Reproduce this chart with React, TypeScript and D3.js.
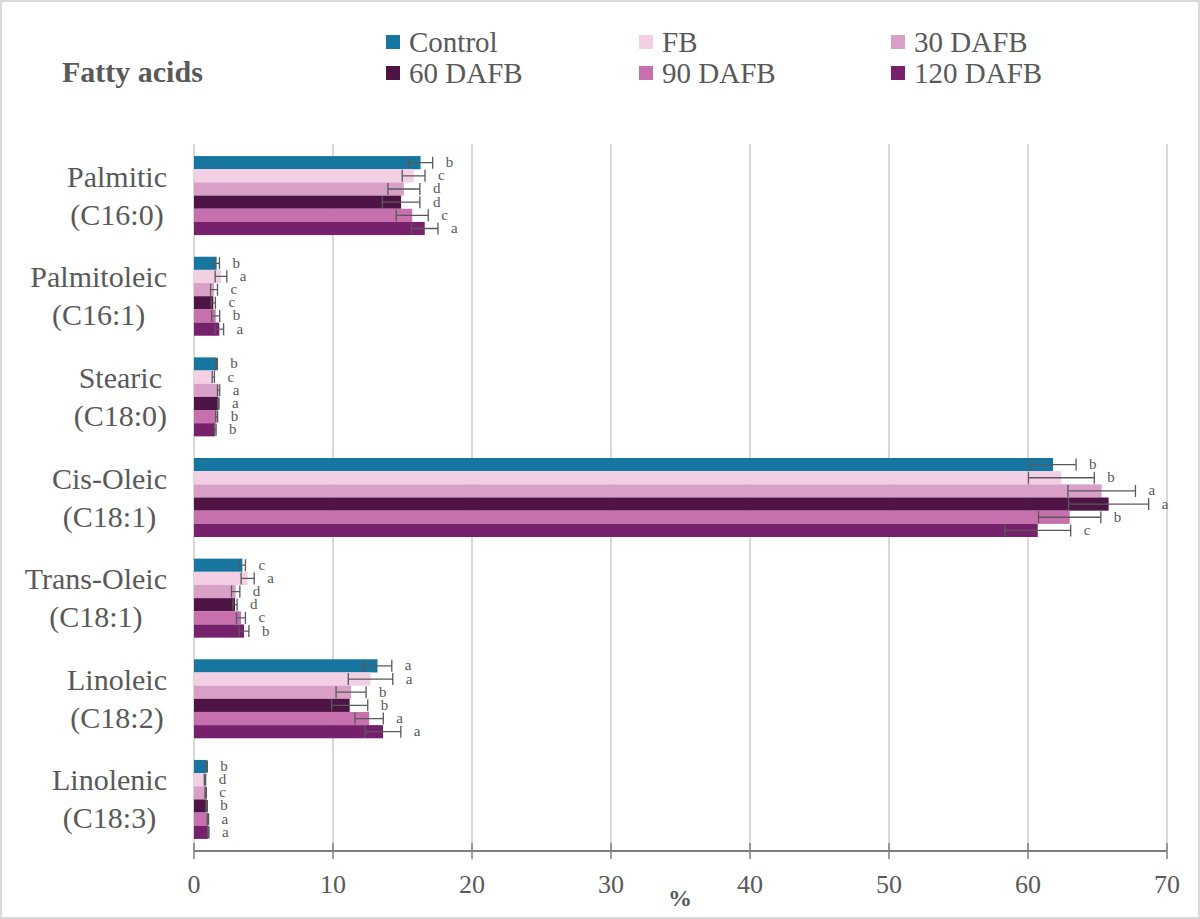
import {useEffect} from "react";
import * as d3 from "d3";

const categories = ["Palmitic", "Palmitoleic", "Stearic", "Cis-Oleic", "Trans-Oleic", "Linoleic", "Linolenic"];
const codes = ["(C16:0)", "(C16:1)", "(C18:0)", "(C18:1)", "(C18:1)", "(C18:2)", "(C18:3)"];
const seriesNames = ["Control", "FB", "30 DAFB", "60 DAFB", "90 DAFB", "120 DAFB"];
const seriesColors = ["#17769f", "#f2cfe3", "#d9a0c7", "#4f1446", "#c670ad", "#77216c"];

const control = [16.3, 1.63, 1.63, 61.8, 3.48, 13.2, 0.91];
const fb = [15.8, 1.94, 1.39, 62.4, 3.86, 12.7, 0.79];
const dafb30 = [15.1, 1.44, 1.77, 65.3, 3.0, 11.3, 0.84];
const dafb60 = [14.9, 1.39, 1.75, 65.8, 2.95, 11.2, 0.91];
const dafb90 = [15.7, 1.56, 1.63, 63.0, 3.38, 12.6, 1.0];
const dafb120 = [16.6, 1.82, 1.53, 60.7, 3.6, 13.6, 1.03];

const errControl = [0.87, 0.2, 0.05, 1.66, 0.22, 1.03, 0.05];
const errFb = [0.82, 0.42, 0.08, 2.37, 0.47, 1.6, 0.05];
const err30 = [1.15, 0.25, 0.08, 2.43, 0.3, 1.08, 0.05];
const err60 = [1.35, 0.15, 0.05, 2.88, 0.15, 1.3, 0.05];
const err90 = [1.15, 0.29, 0.07, 2.24, 0.32, 1.02, 0.05];
const err120 = [0.95, 0.31, 0.06, 2.37, 0.35, 1.28, 0.05];

const lblControl = ["b", "b", "b", "b", "c", "a", "b"];
const lblFb = ["c", "a", "c", "b", "a", "a", "d"];
const lbl30 = ["d", "c", "a", "a", "d", "b", "c"];
const lbl60 = ["d", "c", "a", "a", "d", "b", "b"];
const lbl90 = ["c", "b", "b", "b", "c", "a", "a"];
const lbl120 = ["a", "a", "b", "c", "b", "a", "a"];

const xTicks = [0, 10, 20, 30, 40, 50, 60, 70];

const values = [control, fb, dafb30, dafb60, dafb90, dafb120];
const errors = [errControl, errFb, err30, err60, err90, err120];
const letters = [lblControl, lblFb, lbl30, lbl60, lbl90, lbl120];

const WIDTH = 1200;
const HEIGHT = 919;
const FONT = "Liberation Serif, Times New Roman, serif";
const TEXT = "#595959";

function measure(text: string, font: string) {
    const ctx = document.createElement("canvas").getContext("2d");
    if (!ctx) return text.length * 14;
    ctx.font = font;
    return ctx.measureText(text).width;
}

export default function App() {
    useEffect(() => {
        document.body.style.margin = "0";
    }, []);

    const x = d3.scaleLinear([0, 70], [194, 1167]);
    const y = d3.scaleBand(categories, [144, 851]).paddingInner(0.215).paddingOuter(0.12);
    const ySub = d3.scaleBand(seriesNames, [0, y.bandwidth()]);
    const labelFont = `30px "Liberation Serif", serif`;

    return <svg width={WIDTH} height={HEIGHT} viewBox={`0 0 ${WIDTH} ${HEIGHT}`}
                style={{display: "block", position: "absolute", left: 0, top: 0, background: "#fff"}}>
        <rect x={1} y={1} width={WIDTH - 2} height={HEIGHT - 2} fill="#fff" stroke="#d9d9d9" strokeWidth={2}/>

        {/* gridlines */}
        {xTicks.map(t => <line key={t} x1={x(t)} x2={x(t)} y1={144} y2={851} stroke="#d9d9d9" strokeWidth={2}/>)}

        {/* bars */}
        {categories.map((c, ci) => <g key={c} transform={`translate(0,${y(c)})`}>
            {seriesNames.map((s, si) => {
                const v = values[si][ci];
                const e = errors[si][ci];
                const by = ySub(s) as number;
                const h = ySub.bandwidth();
                const cy = by + h / 2;
                return <g key={s}>
                    <rect x={x(0)} y={by} width={x(v) - x(0)} height={h} fill={seriesColors[si]}/>
                    <path d={`M${x(v - e)},${cy}H${x(v + e)}M${x(v - e)},${cy - 6}V${cy + 6}M${x(v + e)},${cy - 6}V${cy + 6}`}
                          stroke={TEXT} strokeWidth={1.3} fill="none"/>
                    <text x={x(v + e) + 13} y={cy + 4.5} fontFamily={FONT} fontSize={15} fill={TEXT}>
                        {letters[si][ci]}
                    </text>
                </g>;
            })}
        </g>)}

        {/* x axis */}
        <line x1={x(0)} x2={x(70)} y1={851} y2={851} stroke="#7f7f7f" strokeWidth={2}/>
        {xTicks.map(t => <g key={t}>
            <line x1={x(t)} x2={x(t)} y1={843} y2={859} stroke="#7f7f7f" strokeWidth={1.5}/>
            <text x={x(t)} y={893} textAnchor="middle" fontFamily={FONT} fontSize={26} fill={TEXT}>{t}</text>
        </g>)}
        <text x={680} y={906} textAnchor="middle" fontFamily={FONT} fontSize={24} fontWeight="bold" fill={TEXT}>%</text>

        {/* category labels, each block centred and right edge at 167 */}
        {categories.map((c, ci) => {
            const w = Math.max(measure(c, labelFont), measure(codes[ci], labelFont));
            const cx = 167 - w / 2;
            const mid = (y(c) as number) + y.bandwidth() / 2;
            return <g key={c} fontFamily={FONT} fontSize={30} fill={TEXT} textAnchor="middle">
                <text x={cx} y={mid - 9}>{c}</text>
                <text x={cx} y={mid + 29}>{codes[ci]}</text>
            </g>;
        })}

        {/* title */}
        <text x={62} y={82} fontFamily={FONT} fontSize={30} fontWeight="bold" fill={TEXT}>Fatty acids</text>

        {/* legend */}
        {seriesNames.map((s, i) => {
            const col = i % 3;
            const row = Math.floor(i / 3);
            const lx = [386, 639, 891][col];
            const ly = 42 + row * 31;
            return <g key={s}>
                <rect x={lx} y={ly - 7} width={14} height={14} fill={seriesColors[i]}/>
                <text x={lx + 23} y={ly + 10} fontFamily={FONT} fontSize={29} fill={TEXT}>{s}</text>
            </g>;
        })}
    </svg>;
}
